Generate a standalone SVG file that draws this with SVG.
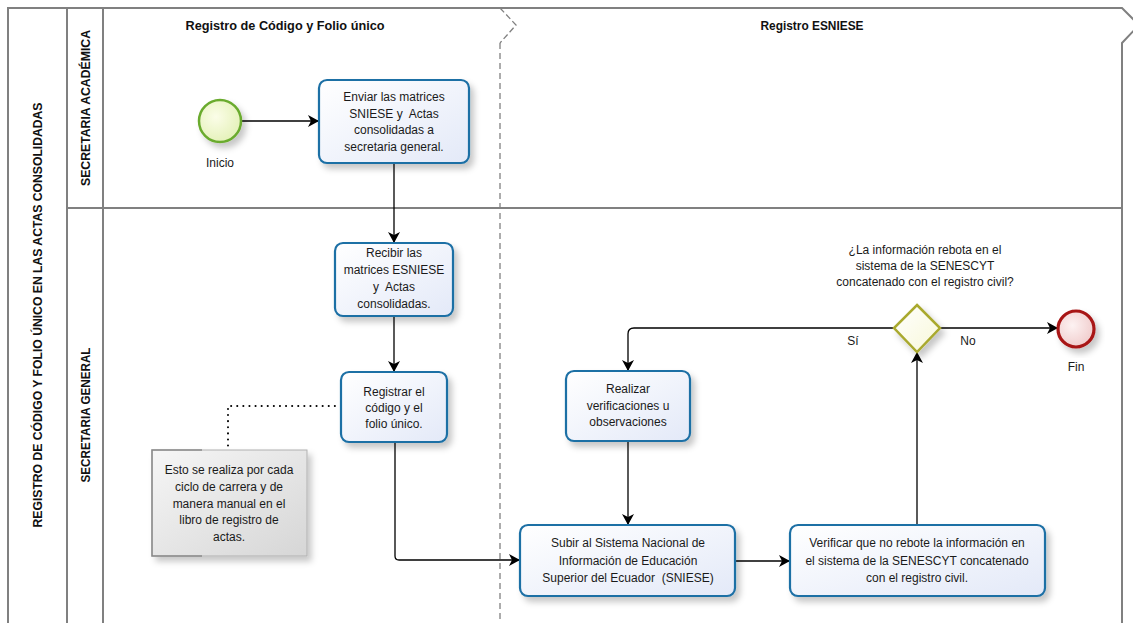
<svg xmlns="http://www.w3.org/2000/svg" width="1133" height="623" viewBox="0 0 1133 623">
<style>
.pool{fill:none;stroke:#808080;stroke-width:2}
.phase{fill:none;stroke:#808080;stroke-width:1.3;stroke-dasharray:6,4}
.task{stroke:#1d6fa5;stroke-width:2.2;fill:url(#taskFill);filter:url(#sh)}
.t{font-family:"Liberation Sans",Arial,sans-serif;font-size:12px;fill:#1a1a1a;text-anchor:middle;white-space:pre}
.h{font-family:"Liberation Sans",Arial,sans-serif;font-size:12px;font-weight:bold;fill:#111;text-anchor:middle}
.flow{fill:none;stroke:#000;stroke-width:1.3;marker-end:url(#arr)}
.assoc{fill:none;stroke:#000;stroke-width:2;stroke-dasharray:0.1,6;stroke-linecap:round}
</style>
<defs>
<linearGradient id="taskFill" x1="0" y1="0" x2="1" y2="1">
<stop offset="0" stop-color="#ffffff"/><stop offset="1" stop-color="#e3e9f8"/>
</linearGradient>
<radialGradient id="startFill" cx="0.4" cy="0.4" r="0.7">
<stop offset="0" stop-color="#fbfde8"/><stop offset="1" stop-color="#e2f0b4"/>
</radialGradient>
<radialGradient id="endFill" cx="0.4" cy="0.4" r="0.7">
<stop offset="0" stop-color="#fdf2f2"/><stop offset="1" stop-color="#efc8c8"/>
</radialGradient>
<linearGradient id="gwFill" x1="0" y1="0" x2="1" y2="1">
<stop offset="0" stop-color="#ffffff"/><stop offset="1" stop-color="#f8f8d8"/>
</linearGradient>
<linearGradient id="annFill" x1="0" y1="0" x2="1" y2="1">
<stop offset="0" stop-color="#f6f6f6"/><stop offset="1" stop-color="#d6d6d6"/>
</linearGradient>
<filter id="sh" x="-20%" y="-20%" width="150%" height="150%">
<feDropShadow dx="4" dy="5" stdDeviation="3" flood-color="#000" flood-opacity="0.22"/>
</filter>
<marker id="arr" markerWidth="12" markerHeight="12" refX="11" refY="6" orient="auto" markerUnits="userSpaceOnUse">
<path d="M0,0 L11,6 L0,12 L3,6 z" fill="#000"/>
</marker>
</defs>

<g id="pool">
<path class="pool" d="M8,623 L8,8 L1122,8 L1139,25 L1122,43 L1122,623"/>
<line class="pool" x1="67" y1="8" x2="67" y2="623"/>
<line class="pool" x1="103" y1="8" x2="103" y2="623"/>
<line class="pool" x1="67" y1="208" x2="1122" y2="208"/>
<path fill="none" stroke="#808080" stroke-width="1.3" stroke-dasharray="6,3" d="M500,8 L516,25 L500,43"/>
<line class="phase" x1="500" y1="43" x2="500" y2="623"/>
<text class="h" transform="translate(42,315) rotate(-90)" textLength="425" lengthAdjust="spacingAndGlyphs">REGISTRO DE CÓDIGO Y FOLIO ÚNICO EN LAS ACTAS CONSOLIDADAS</text>
<text class="h" transform="translate(90,108) rotate(-90)" textLength="156" lengthAdjust="spacingAndGlyphs">SECRETARIA ACADÉMICA</text>
<text class="h" transform="translate(90,415) rotate(-90)" textLength="135" lengthAdjust="spacingAndGlyphs">SECRETARIA GENERAL</text>
<text class="h" x="285" y="30" textLength="199" lengthAdjust="spacingAndGlyphs">Registro de Código y Folio único</text>
<text class="h" x="812" y="30" textLength="103" lengthAdjust="spacingAndGlyphs">Registro ESNIESE</text>
</g>

<g id="connectors">
<path class="flow" d="M241,121 L319,121"/>
<path class="flow" d="M394,163 L394,243"/>
<path class="flow" d="M394,316 L394,372"/>
<path class="flow" d="M395,442 L395,556 Q395,560 399,560 L520,560"/>
<path class="flow" d="M735,561 L790,561"/>
<path class="flow" d="M917,525 L917,352"/>
<path class="flow" d="M894,328 L634,328 Q628,328 628,334 L628,371"/>
<path class="flow" d="M940,328 L1058,328"/>
<path class="flow" d="M628,441 L628,525"/>
<path class="assoc" d="M341,406 L228,406 L228,450"/>
</g>

<g id="inicio">
<circle cx="220" cy="121" r="21" fill="url(#startFill)" stroke="#6aab2e" stroke-width="2.5" filter="url(#sh)"/>
<text class="t" x="220" y="167">Inicio</text>
</g>

<g id="task-enviar">
<rect class="task" x="319" y="80" width="150" height="83" rx="8"/>
<text class="t" x="394" y="101">Enviar las matrices</text>
<text class="t" x="394" y="117.5" xml:space="preserve">SNIESE y  Actas</text>
<text class="t" x="394" y="134">consolidadas a</text>
<text class="t" x="394" y="150.5">secretaria general.</text>
</g>

<g id="task-recibir">
<rect class="task" x="335" y="243" width="118" height="73" rx="8"/>
<text class="t" x="394" y="257">Recibir las</text>
<text class="t" x="394" y="274">matrices ESNIESE</text>
<text class="t" x="394" y="291" xml:space="preserve">y  Actas</text>
<text class="t" x="394" y="308">consolidadas.</text>
</g>

<g id="task-registrar">
<rect class="task" x="341" y="372" width="106" height="70" rx="8"/>
<text class="t" x="394" y="396">Registrar el</text>
<text class="t" x="394" y="412">código y el</text>
<text class="t" x="394" y="428">folio único.</text>
</g>

<g id="annotation">
<rect x="152" y="450" width="155" height="106" fill="url(#annFill)" stroke="#b0b0b0" stroke-width="1" filter="url(#sh)"/>
<path d="M202,450 L152,450 L152,556 L202,556" fill="none" stroke="#8a8a8a" stroke-width="1.5"/>
<text class="t" x="229" y="474">Esto se realiza por cada</text>
<text class="t" x="229" y="491">ciclo de carrera y de</text>
<text class="t" x="229" y="508">manera manual en el</text>
<text class="t" x="229" y="524">libro de registro de</text>
<text class="t" x="229" y="541">actas.</text>
</g>

<g id="task-subir">
<rect class="task" x="520" y="525" width="215" height="71" rx="8"/>
<text class="t" x="628" y="547">Subir al Sistema Nacional de</text>
<text class="t" x="628" y="565">Información de Educación</text>
<text class="t" x="628" y="582" xml:space="preserve">Superior del Ecuador  (SNIESE)</text>
</g>

<g id="task-verificar">
<rect class="task" x="790" y="525" width="255" height="71" rx="8"/>
<text class="t" x="917" y="547">Verificar que no rebote la información en</text>
<text class="t" x="917" y="565">el sistema de la SENESCYT concatenado</text>
<text class="t" x="917" y="582">con el registro civil.</text>
</g>

<g id="task-realizar">
<rect class="task" x="566" y="371" width="124" height="70" rx="8"/>
<text class="t" x="628" y="393">Realizar</text>
<text class="t" x="628" y="410">verificaciones u</text>
<text class="t" x="628" y="426">observaciones</text>
</g>

<g id="gateway">
<path d="M917,305 L940,328 L917,352 L894,328 z" fill="url(#gwFill)" stroke="#a9a92e" stroke-width="2.5" filter="url(#sh)"/>
<text class="t" x="925" y="254">¿La información rebota en el</text>
<text class="t" x="925" y="270">sistema de la SENESCYT</text>
<text class="t" x="925" y="286">concatenado con el registro civil?</text>
<text class="t" x="853" y="345">Sí</text>
<text class="t" x="968" y="345">No</text>
</g>

<g id="fin">
<circle cx="1076" cy="329" r="18" fill="url(#endFill)" stroke="#a81414" stroke-width="3.2" filter="url(#sh)"/>
<text class="t" x="1076" y="371">Fin</text>
</g>
</svg>
